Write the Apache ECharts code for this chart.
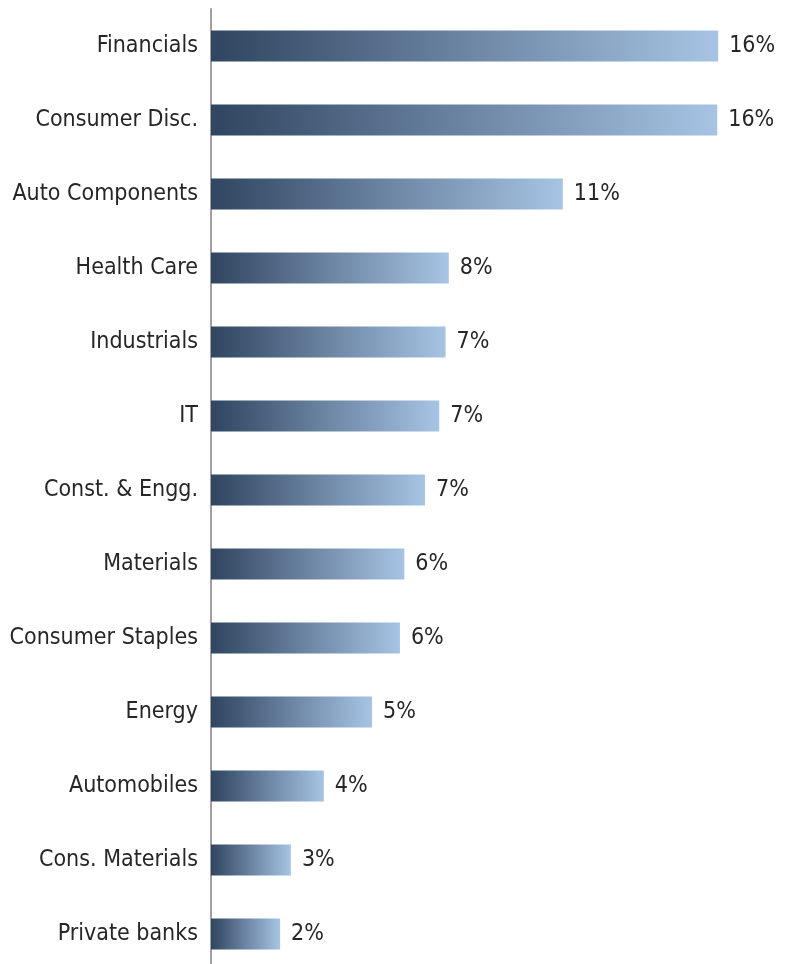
<!DOCTYPE html>
<html>
<head>
<meta charset="utf-8">
<script src="https://cdn.jsdelivr.net/npm/echarts@6/dist/echarts.min.js"></script>
<style>
html,body{margin:0;padding:0;background:#fff;overflow:hidden;}
#chart{width:787px;height:972px;}
</style>
</head>
<body>
<div id="chart"></div>
<script>
const categories = ["Financials","Consumer Disc.","Auto Components","Health Care","Industrials","IT","Const. & Engg.","Materials","Consumer Staples","Energy","Automobiles","Cons. Materials","Private banks"];
const values = [16.0, 15.97, 11.1, 7.5, 7.4, 7.2, 6.75, 6.1, 5.96, 5.08, 3.56, 2.52, 2.18];
const valueLabels = ["16%","16%","11%","8%","7%","7%","7%","6%","6%","5%","4%","3%","2%"];

const FONT = "'Liberation Sans Narrow','DejaVu Sans Condensed','Roboto',sans-serif";
const chart = echarts.init(document.getElementById('chart'), null, {renderer:'canvas'});
chart.setOption({
  animation:false,
  backgroundColor:'#fff',
  grid:{left:211, top:9, width:570.6, height:962, containLabel:false},
  xAxis:{type:'value', min:0, max:18, show:false},
  yAxis:{
    type:'category', data:categories, inverse:true,
    axisLine:{show:true, lineStyle:{color:'#a0a0a0', width:2}},
    axisTick:{show:false},
    axisLabel:{margin:13, fontSize:23, color:'#262626', fontFamily:FONT}
  },
  series:[{
    type:'bar',
    data:values,
    barWidth:31,
    itemStyle:{
      color:new echarts.graphic.LinearGradient(0,0,1,0,[
        {offset:0,color:'#2f4560'},
        {offset:1,color:'#a7c4e4'}
      ])
    },
    label:{
      show:true, position:'right', distance:11,
      fontSize:23, color:'#262626', fontFamily:FONT,
      formatter:p=>valueLabels[p.dataIndex]
    }
  }]
});
</script>
</body>
</html>
